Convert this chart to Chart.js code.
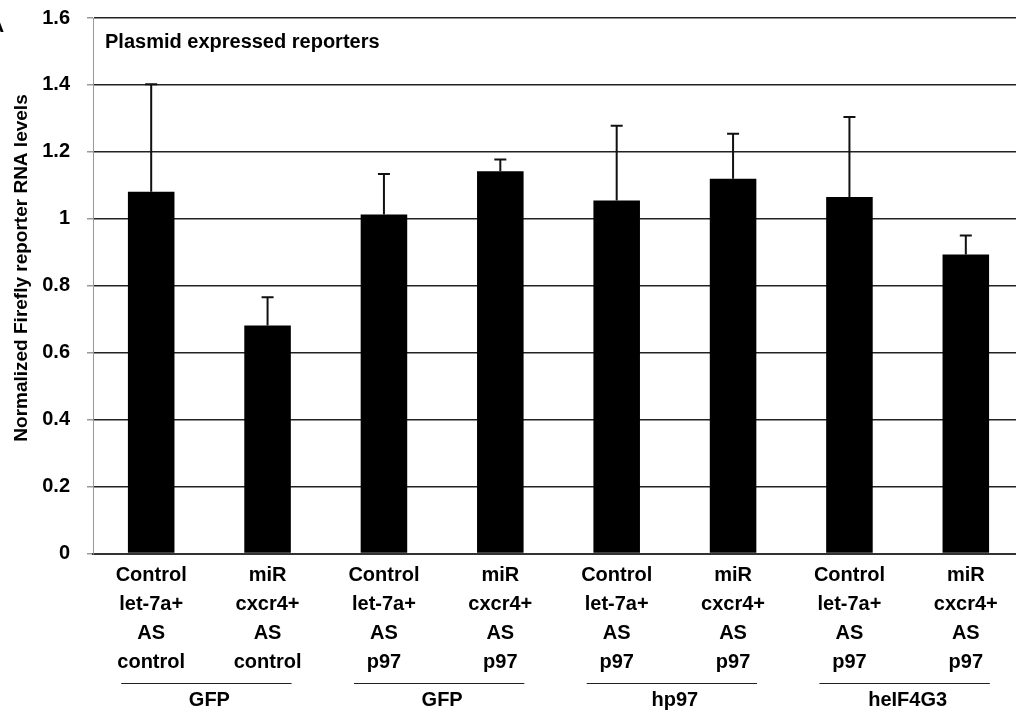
<!DOCTYPE html>
<html>
<head>
<meta charset="utf-8">
<script src="https://cdn.jsdelivr.net/npm/chart.js@4.4.1/dist/chart.umd.min.js"></script>
<style>
  html, body { margin: 0; padding: 0; background: #fff; overflow: hidden; }
  #wrap { width: 1016px; height: 713px; overflow: hidden; position: relative; }
  canvas { display: block; }
</style>
</head>
<body>
<div id="wrap"><canvas id="chart" width="1024" height="713"></canvas></div>
<script>
// Category labels (one line per array entry)
const categories = [
  ['Control', 'let-7a+', 'AS', 'control'],
  ['miR', 'cxcr4+', 'AS', 'control'],
  ['Control', 'let-7a+', 'AS', 'p97'],
  ['miR', 'cxcr4+', 'AS', 'p97'],
  ['Control', 'let-7a+', 'AS', 'p97'],
  ['miR', 'cxcr4+', 'AS', 'p97'],
  ['Control', 'let-7a+', 'AS', 'p97'],
  ['miR', 'cxcr4+', 'AS', 'p97']
];

// Normalized Firefly reporter RNA levels and upper error
const rnaLevels  = [1.081, 0.681, 1.013, 1.142, 1.055, 1.120, 1.065, 0.893];
const upperError = [0.321, 0.085, 0.121, 0.035, 0.223, 0.134, 0.239, 0.057];

// Reporter groups shown beneath the category labels
const groupNames   = ['GFP', 'GFP', 'hp97', 'heIF4G3'];
const groupMembers = [[0, 1], [2, 3], [4, 5], [6, 7]];

// Y axis ticks
const yTickValues = [0, 0.2, 0.4, 0.6, 0.8, 1, 1.2, 1.4, 1.6];
const yTickLabels = ['0', '0.2', '0.4', '0.6', '0.8', '1', '1.2', '1.4', '1.6'];

const FONT = '"Liberation Sans", Arial, sans-serif';

const errorBars = {
  id: 'errorBars',
  afterDatasetsDraw(chart) {
    const ctx = chart.ctx;
    const y = chart.scales.y;
    const meta = chart.getDatasetMeta(0);
    ctx.save();
    ctx.strokeStyle = '#111';
    ctx.lineWidth = 2;
    meta.data.forEach((bar, i) => {
      const top = y.getPixelForValue(rnaLevels[i] + upperError[i]);
      ctx.beginPath();
      ctx.moveTo(bar.x, bar.y);
      ctx.lineTo(bar.x, top);
      ctx.moveTo(bar.x - 6, top);
      ctx.lineTo(bar.x + 6, top);
      ctx.stroke();
    });
    ctx.restore();
  }
};

const annotations = {
  id: 'annotations',
  afterDraw(chart) {
    const ctx = chart.ctx;
    const area = chart.chartArea;
    const x = chart.scales.x;
    ctx.save();
    ctx.fillStyle = '#000';

    // panel letter
    ctx.font = 'bold 21px ' + FONT;
    ctx.textAlign = 'left';
    ctx.textBaseline = 'alphabetic';
    ctx.fillText('A', -11, 32);

    // in-plot heading
    ctx.font = 'bold 20px ' + FONT;
    ctx.fillText('Plasmid expressed reporters', area.left + 12, 48);

    // y axis title
    ctx.save();
    ctx.translate(22, 268);
    ctx.rotate(-Math.PI / 2);
    ctx.font = 'bold 19px ' + FONT;
    ctx.textAlign = 'center';
    ctx.textBaseline = 'middle';
    ctx.fillText('Normalized Firefly reporter RNA levels', 0, 0);
    ctx.restore();

    // group rules and names
    ctx.strokeStyle = '#222';
    ctx.lineWidth = 1;
    ctx.font = 'bold 20px ' + FONT;
    ctx.textAlign = 'center';
    ctx.textBaseline = 'middle';
    groupMembers.forEach((members, g) => {
      const x0 = x.getPixelForValue(members[0]);
      const x1 = x.getPixelForValue(members[members.length - 1]);
      ctx.beginPath();
      ctx.moveTo(x0 - 30, 683.5);
      ctx.lineTo(x1 + 24, 683.5);
      ctx.stroke();
      ctx.fillText(groupNames[g], (x0 + x1) / 2, 700);
    });
    ctx.restore();
  }
};

new Chart(document.getElementById('chart'), {
  type: 'bar',
  data: {
    labels: categories,
    datasets: [{
      data: rnaLevels,
      backgroundColor: '#000',
      borderWidth: 0,
      barPercentage: 0.4,
      categoryPercentage: 1.0
    }]
  },
  options: {
    responsive: false,
    animation: false,
    devicePixelRatio: 1,
    layout: { padding: { top: 18, left: 0, right: 0, bottom: 0 } },
    plugins: {
      legend: { display: false },
      tooltip: { enabled: false },
      title: { display: false }
    },
    scales: {
      x: {
        offset: true,
        grid: { display: false, drawTicks: false },
        border: { display: true, color: '#333', width: 2 },
        ticks: {
          color: '#000',
          padding: 7,
          maxRotation: 0,
          autoSkip: false,
          font: { family: FONT, size: 20, weight: 'bold', lineHeight: 1.45 }
        },
        afterFit(scale) {
          scale.height = 159.5;
          scale.paddingLeft = 0;
          scale.paddingRight = 0;
        }
      },
      y: {
        min: 0,
        max: 1.6,
        afterBuildTicks(scale) {
          scale.ticks = yTickValues.map(v => ({ value: v }));
        },
        grid: {
          color: '#222',
          lineWidth: 1.5,
          drawTicks: true,
          tickLength: 6,
          tickColor: '#999'
        },
        border: { display: true, color: '#999', width: 1 },
        ticks: {
          color: '#000',
          padding: 17,
          font: { family: FONT, size: 20, weight: 'bold' },
          callback(value) {
            const i = yTickValues.indexOf(value);
            return i >= 0 ? yTickLabels[i] : '';
          }
        },
        afterFit(scale) {
          scale.width = 93;
          scale.paddingTop = 0;
          scale.paddingBottom = 0;
        }
      }
    }
  },
  plugins: [errorBars, annotations]
});
</script>
</body>
</html>
